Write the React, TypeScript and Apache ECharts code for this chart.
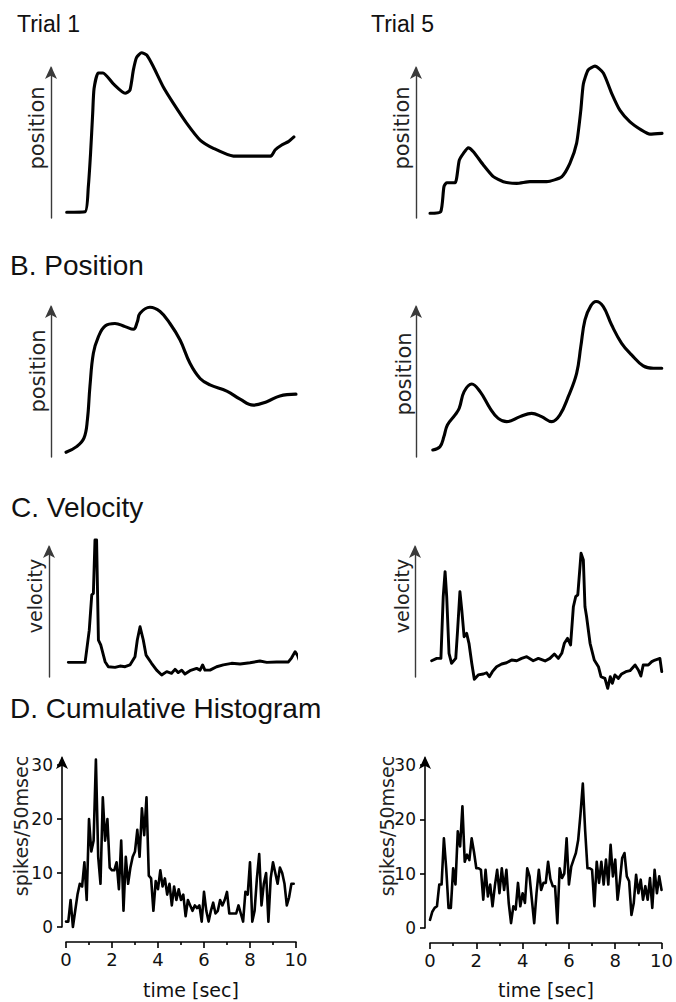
import React, { useEffect, useRef } from "react";
import * as echarts from "echarts";

// ---------- A. raw position traces (time in s, position in arbitrary units) ----------
const trial1RawTime = [0.03, 0.83, 0.97, 1.07, 1.16, 1.22, 1.4, 1.61, 2.06, 2.57, 2.78, 2.93, 3.07, 3.29, 3.51, 3.8, 4.23, 4.67, 5.25, 5.83, 6.41, 7.28, 8.14, 8.9, 9.09, 9.38, 9.67, 9.91];
const trial1RawPos = [3.7, 4, 20, 42, 67, 83, 93, 93, 86, 80, 82, 95, 103, 106, 104.5, 97, 84, 73.5, 60.7, 50, 44.7, 39.7, 39.7, 39.7, 43.6, 46.8, 49, 52];

const trial5RawTime = [0, 0.46, 0.6, 0.72, 1.08, 1.26, 1.44, 1.65, 1.87, 2.3, 2.73, 3.16, 3.74, 4.31, 5.03, 5.68, 6.03, 6.32, 6.5, 6.61, 6.82, 7.11, 7.47, 7.83, 8.19, 8.62, 9.12, 9.48, 10.0];
const trial5RawPos = [3, 4, 20, 22.6, 22.6, 37, 41.5, 45, 42.5, 34, 26.5, 23.3, 22.2, 23.3, 23.3, 26.5, 35, 48, 69, 86, 95, 97.4, 93, 80, 69, 61.7, 56.4, 53.8, 54.3];

// ---------- B. smoothed position ----------
const trial1PosTime = [0, 0.46, 0.78, 0.93, 1.04, 1.19, 1.41, 1.7, 2.13, 2.57, 2.93, 3.1, 3.22, 3.65, 4.09, 4.52, 4.96, 5.39, 5.83, 6.26, 6.99, 7.57, 8.14, 8.73, 9.3, 10.0];
const trial1Pos = [3, 6.6, 12, 23.6, 44.8, 66, 76.6, 83.4, 85, 83, 81.3, 86, 91.5, 95.3, 92.6, 85, 74.5, 59.7, 50, 45.9, 42, 36.8, 33, 35.2, 38.9, 40];

const trial5PosTime = [0.12, 0.43, 0.6, 0.75, 1.08, 1.26, 1.47, 1.8, 2.16, 2.59, 2.94, 3.31, 3.88, 4.38, 4.81, 5.25, 5.6, 5.96, 6.32, 6.5, 6.68, 6.93, 7.16, 7.47, 7.83, 8.26, 8.69, 9.19, 9.63, 9.99];
const trial5Pos = [4.5, 6.6, 13, 20.4, 26.8, 31, 41.6, 46.5, 41.6, 31, 24.6, 22.5, 25.7, 27.8, 25.7, 22.5, 26.8, 38.4, 53.3, 70.3, 87.3, 96.2, 99, 95.7, 84, 72.4, 65, 58, 56.5, 56.5];

// ---------- C. velocity ----------
const trial1VelTime = [0.1, 0.83, 1.01, 1.12, 1.19, 1.26, 1.33, 1.41, 1.51, 1.7, 1.84, 2.13, 2.35, 2.57, 2.78, 3.0, 3.1, 3.22, 3.36, 3.48, 3.72, 3.94, 4.16, 4.38, 4.59, 4.74, 4.88, 5.03, 5.17, 5.39, 5.68, 5.83, 5.94, 6.04, 6.26, 6.55, 6.84, 7.2, 7.57, 8.0, 8.43, 8.73, 9.16, 9.67, 9.81, 9.96, 10.06, 10.14];
const trial1Vel = [10.7, 10.7, 34, 60, 61, 100, 100, 27, 23.4, 11.2, 7.5, 7, 8, 7.5, 8.8, 14.8, 27, 36.7, 27, 16, 10, 5, 1.5, 3.9, 2.7, 5.6, 3.2, 5, 2.2, 4.6, 6.3, 5, 8.8, 5, 5, 7.5, 8.8, 10, 9.5, 10.4, 11.7, 10.7, 11, 11, 14, 18.5, 16, 12.4];

const trial5VelTime = [0.07, 0.29, 0.47, 0.57, 0.65, 0.72, 0.82, 0.93, 1.11, 1.19, 1.29, 1.37, 1.47, 1.58, 1.68, 1.8, 1.91, 2.08, 2.3, 2.44, 2.56, 2.69, 2.87, 3.09, 3.3, 3.52, 3.74, 3.95, 4.17, 4.45, 4.67, 4.96, 5.17, 5.36, 5.53, 5.68, 5.79, 5.93, 6.06, 6.18, 6.28, 6.37, 6.51, 6.61, 6.68, 6.75, 6.9, 7.08, 7.26, 7.37, 7.54, 7.66, 7.77, 7.86, 7.97, 8.12, 8.26, 8.44, 8.62, 8.84, 8.98, 9.09, 9.19, 9.41, 9.56, 9.7, 9.91, 9.99];
const trial5Vel = [11.9, 13.6, 13.6, 58.6, 76.9, 58.6, 17.3, 10, 13.6, 34.3, 62.3, 49, 29.4, 31.9, 24.6, 10, -1.7, 1.5, 2.2, 3.1, 0.2, 3.9, 7.5, 9.5, 10.4, 12.4, 11.9, 13.6, 14.8, 11.9, 13.6, 11.7, 13.6, 16.8, 13.6, 17.3, 24.6, 28.2, 23.4, 51.3, 58.6, 59.9, 90.3, 85.4, 51.3, 44, 24.6, 12.4, 7.5, 0.2, -1, -8.3, 0.2, -4.6, 1.5, -1, 2.2, 3.9, 4.6, 8.8, 5.1, 0.7, 8.8, 8.8, 11.2, 12.4, 13.6, 3.9];

// ---------- D. cumulative histogram (spikes / 50 msec), one value per 0.1 s bin ----------
const BIN_SEC = 0.1;
const trial1Spikes = [
  1, 1, 5, 0, 3, 6, 8, 7.5, 12, 5,
  20, 14, 16, 31, 13, 8, 24, 16, 20, 11,
  10.5, 10.5, 12, 7, 16, 3, 13, 8, 11, 13,
  14, 18, 13, 22, 17, 24, 9.5, 9, 3, 8.5,
  7, 10.5, 7.5, 9, 6, 8, 4, 7.5, 5, 7,
  5, 6, 2, 5, 4, 3, 4, 3.5, 4, 1,
  6.5, 3, 1, 3, 4.5, 2.5, 3, 5, 4, 5,
  6.5, 2.5, 2.5, 2.5, 2.5, 4, 2.5, 1, 6.5, 6,
  12, 1, 3, 9, 13.5, 4, 8, 10, 1, 9,
  12, 10, 8, 11, 10, 8, 4, 5.5, 8, 8,
];
const trial5Spikes = [
  1.5, 3, 3.7, 4, 8, 8, 16.5, 11, 3.7, 3.7,
  11, 8, 17.8, 15, 22.4, 12.2, 13.5, 12.5, 16.5, 14,
  11, 11, 10.7, 5.2, 10.7, 5.8, 8, 4, 7.7, 10.7,
  6.4, 11, 7, 10.7, 4.6, 0.9, 4, 3.4, 8.3, 4,
  6.4, 4.6, 11, 9.5, 5.2, 0.9, 6.4, 10.7, 7, 8.3,
  8.3, 12.2, 9, 7.7, 7.7, 0.9, 11, 9.2, 10, 16.5,
  8, 11.3, 12.6, 13.8, 16.2, 21, 26.6, 18, 11, 11,
  10.7, 4, 12.2, 8.3, 12.2, 8, 12.6, 8, 15.3, 9.5,
  12.6, 5.2, 8.6, 12.9, 13.8, 9.5, 8.6, 2.4, 4.6, 9.8,
  6.4, 8.9, 5.2, 7.7, 5.2, 9.2, 3.7, 10.7, 6.4, 9.5,
  7,
];
const spikeTicks = [0, 10, 20, 30];

const zip = (t: number[], v: number[]) =>
  t.slice(0, Math.min(t.length, v.length)).map((x, i) => [x, v[i]]);
const bins = (v: number[]) => v.map((y, i) => [Math.round(i * BIN_SEC * 100) / 100, y]);

const TEXT_FONT = "DejaVu Sans";
const TITLE_FONT = "Liberation Sans, Arial, Helvetica, sans-serif";

function buildOption() {
  const grids = [
    { left: 66, top: 68, width: 230, height: 150 },
    { left: 430, top: 68, width: 232, height: 150 },
    { left: 66, top: 307, width: 230, height: 150 },
    { left: 430, top: 307, width: 232, height: 150 },
    { left: 66, top: 547, width: 230, height: 130 },
    { left: 430, top: 547, width: 232, height: 130 },
    { left: 66, top: 758, width: 230, height: 169 },
    { left: 430, top: 758, width: 232, height: 170 },
  ];
  const yMax = [96.2, 96.2, 95.5, 95.5, 94.9, 94.9, 31.3, 31.3];
  const yOffset = [15, 14, 15, 14, 17, 15, 4, 5];

  const arrowAxisLine = (color: string, width: number) => ({
    show: true,
    onZero: false,
    symbol: ["none", "arrow"],
    symbolSize: [9, 13],
    symbolOffset: [0, 2],
    lineStyle: { color, width },
  });

  const xAxis: any[] = grids.map((_, i) => {
    if (i < 6) {
      return { gridIndex: i, type: "value", min: 0, max: 10, show: false, axisLine: { onZero: false } };
    }
    return {
      gridIndex: i,
      type: "value",
      min: 0,
      max: 10,
      interval: 2,
      offset: 15,
      axisLine: { show: true, onZero: false, lineStyle: { color: "#000", width: 1.6 } },
      axisTick: { show: true, length: 6, lineStyle: { color: "#000", width: 1.6 } },
      minorTick: { show: true, splitNumber: 2, length: 3, lineStyle: { color: "#000", width: 1.6 } },
      axisLabel: { fontFamily: TEXT_FONT, fontSize: 18, color: "#111", margin: 8 },
      splitLine: { show: false },
      minorSplitLine: { show: false },
    };
  });

  const yAxis: any[] = grids.map((_, i) => {
    const base: any = {
      gridIndex: i,
      type: "value",
      min: 0,
      max: yMax[i],
      offset: yOffset[i],
      splitLine: { show: false },
    };
    if (i < 6) {
      return {
        ...base,
        axisLine: arrowAxisLine("#3a3a3a", 1.4),
        axisTick: { show: false },
        axisLabel: { show: false },
      };
    }
    return {
      ...base,
      axisLine: arrowAxisLine("#000", 1.6),
      axisTick: { show: true, length: 5, customValues: spikeTicks, lineStyle: { color: "#000", width: 1.6 } },
      axisLabel: { customValues: spikeTicks, fontFamily: TEXT_FONT, fontSize: 17, color: "#111", margin: 9 },
    };
  });

  const datasets = [
    zip(trial1RawTime, trial1RawPos),
    zip(trial5RawTime, trial5RawPos),
    zip(trial1PosTime, trial1Pos),
    zip(trial5PosTime, trial5Pos),
    zip(trial1VelTime, trial1Vel),
    zip(trial5VelTime, trial5Vel),
    bins(trial1Spikes),
    bins(trial5Spikes),
  ];
  const smooth = [0.2, 0.2, 0.4, 0.4, false, false, false, false];
  const widths = [3.1, 3.1, 3.1, 3.1, 2.9, 2.9, 2.6, 2.6];

  const series = datasets.map((data, i) => ({
    type: "line",
    xAxisIndex: i,
    yAxisIndex: i,
    data,
    symbol: "none",
    showSymbol: false,
    smooth: smooth[i],
    clip: false,
    lineStyle: { color: "#000", width: widths[i], join: "round", cap: "round" },
    silent: true,
  }));

  const title = (text: string, x: number, y: number, size: number) => ({
    type: "text",
    x,
    y,
    style: { text, fontFamily: TITLE_FONT, fontSize: size, fill: "#111", align: "left", verticalAlign: "middle" },
  });
  const vLabel = (text: string, x: number, y: number, size: number) => ({
    type: "text",
    x,
    y,
    rotation: Math.PI / 2,
    style: { text, fontFamily: TEXT_FONT, fontSize: size, fill: "#222", align: "center", verticalAlign: "middle" },
  });
  const hLabel = (text: string, x: number, y: number, size: number) => ({
    type: "text",
    x,
    y,
    style: { text, fontFamily: TEXT_FONT, fontSize: size, fill: "#111", align: "center", verticalAlign: "middle" },
  });

  const graphic = [
    title("Trial 1", 17, 23.5, 23),
    title("Trial 5", 371, 23.5, 23),
    title("B. Position", 10, 265, 28),
    title("C. Velocity", 11, 507, 28),
    title("D. Cumulative Histogram", 10, 708, 28),
    vLabel("position", 37, 128, 21),
    vLabel("position", 402, 128, 21),
    vLabel("position", 37.5, 371, 21),
    vLabel("position", 404, 374, 21),
    vLabel("velocity", 35, 596, 19),
    vLabel("velocity", 402, 596, 19),
    vLabel("spikes/50msec", 21, 826, 19),
    vLabel("spikes/50msec", 387, 826, 19),
    hLabel("time [sec]", 191, 990, 19),
    hLabel("time [sec]", 546, 990, 19),
  ];

  return {
    animation: false,
    backgroundColor: "#ffffff",
    grid: grids.map((g) => ({ ...g, containLabel: false })),
    xAxis,
    yAxis,
    series,
    graphic,
  };
}

export default function App() {
  const ref = useRef<HTMLDivElement>(null);
  useEffect(() => {
    if (!ref.current) return;
    const chart = echarts.init(ref.current, null, { renderer: "svg" });
    chart.setOption(buildOption() as any);
    return () => chart.dispose();
  }, []);
  return (
    <div
      ref={ref}
      style={{ position: "absolute", left: 0, top: 0, width: 676, height: 1002, background: "#fff" }}
    />
  );
}
